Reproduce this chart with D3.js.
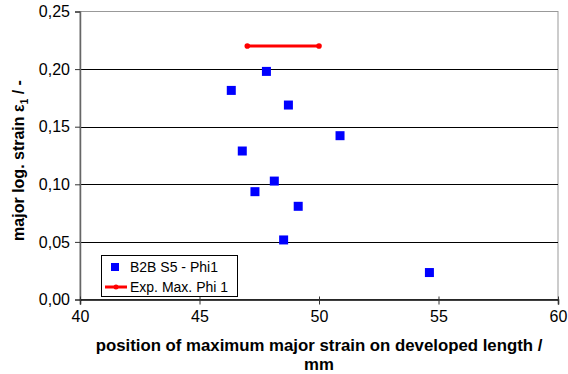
<!DOCTYPE html>
<html><head><meta charset="utf-8">
<script src="https://cdn.jsdelivr.net/npm/d3@7"></script>
<style>body{margin:0;background:#fff}svg{display:block;font-family:"Liberation Sans",Arial,sans-serif}</style>
</head><body><svg id="c" width="568" height="374"></svg>
<script>
const positions = [47.8, 46.33, 48.72, 50.88, 46.79, 48.13, 47.32, 49.13, 48.52, 54.62];
const strains   = [0.198, 0.1815, 0.1688, 0.1422, 0.1289, 0.1028, 0.0936, 0.0809, 0.0517, 0.0234];
const expX = [47, 50];
const expY = [0.22, 0.22];
const xTicks = [40, 45, 50, 55, 60];
const yTicks = [0, 0.05, 0.10, 0.15, 0.20, 0.25];
const seriesNames = ["B2B S5 - Phi1", "Exp. Max. Phi 1"];

const svg = d3.select("#c");
const L = 80, R = 558, T = 11.5, B = 299.5;
const x = d3.scaleLinear().domain([40, 60]).range([L, R]);
const y = d3.scaleLinear().domain([0, 0.25]).range([B, T]);
const fmt = d => d3.format(".2f")(d).replace(".", ",");

svg.append("rect").attr("x", L).attr("y", T).attr("width", R - L).attr("height", B - T)
  .attr("fill", "none").attr("stroke", "#999").attr("stroke-width", 1);

svg.append("g").selectAll("line").data(yTicks.filter(d => d > 0 && d < 0.25)).join("line")
  .attr("x1", L).attr("x2", R).attr("y1", d => Math.round(y(d)) + 0.5).attr("y2", d => Math.round(y(d)) + 0.5)
  .attr("stroke", "#000").attr("stroke-width", 1);

const ya = svg.append("g").attr("transform", `translate(${L},0)`)
  .call(d3.axisLeft(y).tickValues(yTicks).tickFormat(fmt).tickSize(5).tickPadding(5));
ya.select(".domain").attr("stroke", "#666").attr("stroke-width", 1.5);
ya.selectAll(".tick line").attr("stroke", "#333");
ya.selectAll("text").attr("font-size", 16).attr("fill", "#000").attr("font-family", "Liberation Sans, Arial, sans-serif");

const xa = svg.append("g").attr("transform", `translate(0,${B})`)
  .call(d3.axisBottom(x).tickValues(xTicks).tickFormat(d3.format("d")).tickSize(5).tickPadding(6));
xa.select(".domain").attr("stroke", "#000").attr("stroke-width", 1.5);
xa.selectAll(".tick line").attr("stroke", "#333").attr("y1", -3);
xa.selectAll("text").attr("font-size", 16).attr("fill", "#000").attr("font-family", "Liberation Sans, Arial, sans-serif");

const line = d3.line().x(d => x(d[0])).y(d => y(d[1]));
const expData = expX.map((v, i) => [v, expY[i]]);
svg.append("path").datum(expData).attr("d", line).attr("stroke", "#f00").attr("stroke-width", 3).attr("fill", "none");
svg.append("g").selectAll("circle").data(expData).join("circle")
  .attr("cx", d => x(d[0])).attr("cy", d => y(d[1])).attr("r", 2.8).attr("fill", "#f00");

const s = 9;
svg.append("g").selectAll("rect").data(positions.map((p, i) => [p, strains[i]])).join("rect")
  .attr("x", d => x(d[0]) - s / 2).attr("y", d => y(d[1]) - s / 2).attr("width", s).attr("height", s)
  .attr("fill", "#0000ff");

const lg = svg.append("g");
lg.append("rect").attr("x", 101.5).attr("y", 255.5).attr("width", 136).attr("height", 41)
  .attr("fill", "#fff").attr("stroke", "#000").attr("stroke-width", 1);
lg.append("rect").attr("x", 111).attr("y", 263).attr("width", 8).attr("height", 8).attr("fill", "#0000ff");
lg.append("line").attr("x1", 105).attr("x2", 127).attr("y1", 287).attr("y2", 287).attr("stroke", "#f00").attr("stroke-width", 3);
lg.append("circle").attr("cx", 116).attr("cy", 287).attr("r", 2.5).attr("fill", "#f00");
lg.selectAll("text.l").data(seriesNames).join("text").attr("class", "l")
  .attr("x", 130).attr("y", (d, i) => 272 + i * 20).attr("font-size", 14).attr("fill", "#000").text(d => d);

svg.append("text").attr("x", (L + R) / 2 + 0).attr("y", 351).attr("text-anchor", "middle")
  .attr("font-size", 16.8).attr("font-weight", "bold").text("position of maximum major strain on developed length /");
svg.append("text").attr("x", (L + R) / 2 + 0).attr("y", 370).attr("text-anchor", "middle")
  .attr("font-size", 16.8).attr("font-weight", "bold").text("mm");

const yt = svg.append("text").attr("transform", `translate(24,${(T + B) / 2 + 5}) rotate(-90)`)
  .attr("text-anchor", "middle").attr("font-size", 16).attr("font-weight", "bold");
yt.append("tspan").text("major log. strain ε");
yt.append("tspan").attr("font-size", 10).attr("dy", 4).text("1");
yt.append("tspan").attr("dy", -4).text(" / -");
</script></body></html>
